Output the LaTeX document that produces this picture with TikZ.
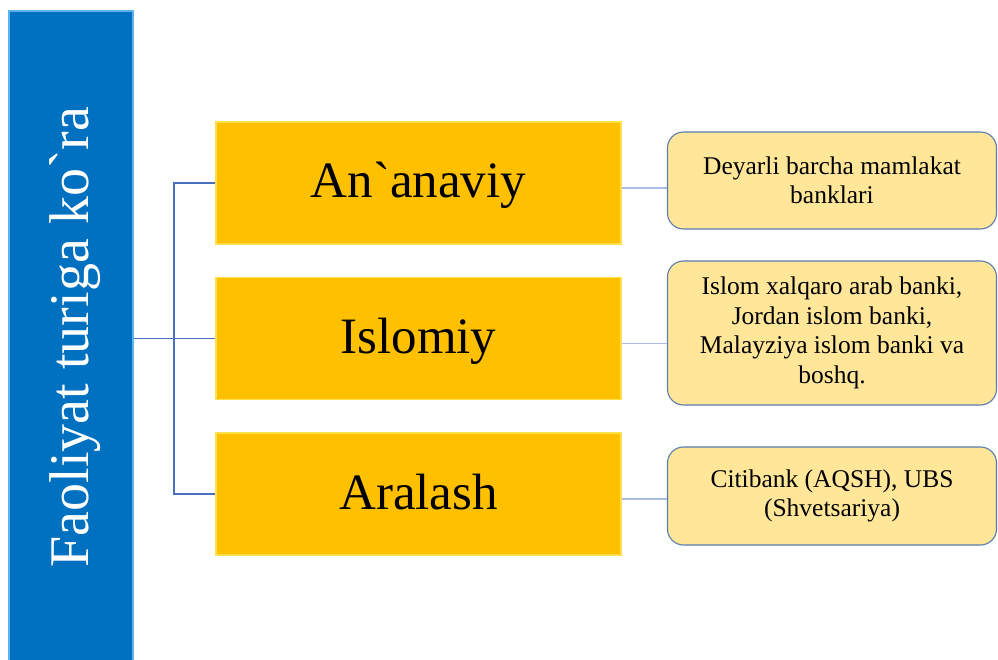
\documentclass[tikz,border=0pt]{standalone}
\usepackage{fontspec}
\setmainfont{Liberation Serif}[Ligatures=TeXOff]
\usetikzlibrary{calc}
\definecolor{barblue}{HTML}{0070C0}
\definecolor{baredge}{HTML}{5CB3EE}
\definecolor{gold}{HTML}{FFC000}
\definecolor{goldedge}{HTML}{FFE04A}
\definecolor{pale}{HTML}{FFE699}
\definecolor{paleedge}{HTML}{5A7DAE}
\definecolor{linkdark}{HTML}{4A6FBE}
\definecolor{linklight}{HTML}{A9BEE2}
\begin{document}
\begin{tikzpicture}[x=1pt,y=-1pt,
 barbox/.style={fill=barblue, draw=baredge, line width=1.5pt, minimum width=124pt, minimum height=651pt, inner sep=0pt},
 title/.style={text=white, font=\fontsize{56}{60}\selectfont, inner sep=0pt},
 catbox/.style={fill=gold, draw=goldedge, line width=1.2pt, minimum width=405pt, minimum height=122pt, inner sep=0pt, text height=40pt, text depth=10pt, font=\fontsize{51}{60}\selectfont},
 exbox/.style={fill=pale, draw=paleedge, line width=1.1pt, rounded corners=16pt, minimum width=329pt, inner sep=0pt, align=center, font=\fontsize{25.5}{29.5}\selectfont},
 tree/.style={draw=linkdark, line width=1.2pt},
 link/.style={draw=linklight, line width=1.1pt}]
\useasboundingbox[fill=white] (0,0) rectangle (998,660);
\node[barbox] (bar) at (71,336.5) {};
\node[title, rotate=90, anchor=base] (title) at (88,337) {Faoliyat turiga ko`ra};
\node[catbox] (a1) at (418.5,183) {An`anaviy};
\node[catbox] (a2) at (418.5,338.5) {Islomiy};
\node[catbox] (a3) at (418.5,494) {Aralash};
\node[exbox, minimum height=97pt] (b1) at (832,180.5) {Deyarli barcha mamlakat\\banklari};
\node[exbox, minimum height=144pt] (b2) at (832,333) {Islom xalqaro arab banki,\\Jordan islom banki,\\Malayziya islom banki va\\boshq.};
\node[exbox, minimum height=98pt] (b3) at (832,496) {Citibank (AQSH), UBS\\(Shvetsariya)};
\coordinate (j) at (174,338.5);
\draw[tree] (bar.east |- a2.west) -- (a2.west);
\draw[tree] (a1.west) -- (a1.west -| j) -- (a3.west -| j) -- (a3.west);
\draw[link] ([yshift=-5pt]a1.east) -- ([yshift=-5pt]a1.east -| b1.west);
\draw[link] ([yshift=-5pt]a2.east) -- ([yshift=-5pt]a2.east -| b2.west);
\draw[link] ([yshift=-5pt]a3.east) -- ([yshift=-5pt]a3.east -| b3.west);
\end{tikzpicture}
\end{document}
